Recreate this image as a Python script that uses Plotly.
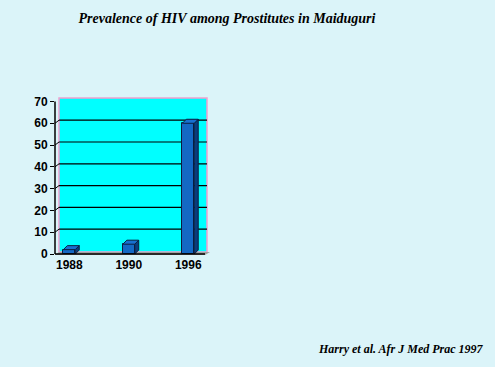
import plotly.graph_objects as go

years = ["1988", "1990", "1996"]
prevalence = [2, 4.5, 60]
y_ticks = [0, 10, 20, 30, 40, 50, 60, 70]

title_text = "Prevalence of HIV among Prostitutes in Maiduguri"
source_text = "Harry et al. Afr J Med Prac 1997"

BG = "#DBF4F9"
FRONT = "#1468C4"
SIDE = "#0B3C7C"
TOP = "#1870D0"
EDGE = "#0A1E40"

W, H = 495, 367
L, R, T, B = 55, 210, 98, 256  # plot area pixels
xr = [-0.2403, 2.365]
yr = [-0.92, 71.6]

xs = list(range(len(years)))
bw = 0.2
dx = 0.067
dy = 1.84

fig = go.Figure()

# front faces
fig.add_trace(go.Bar(x=xs, y=prevalence, width=bw, marker=dict(color=FRONT, line=dict(color=EDGE, width=1)),
                     hoverinfo="skip", showlegend=False))

# side and top faces, derived from data
for x, v in zip(xs, prevalence):
    xl, xrgt = x - bw / 2, x + bw / 2
    fig.add_trace(go.Scatter(x=[xrgt, xrgt, xrgt + dx, xrgt + dx, xrgt], y=[0, v, v + dy, dy, 0],
                             fill="toself", fillcolor=SIDE, mode="lines", line=dict(color=EDGE, width=1),
                             hoverinfo="skip", showlegend=False))
    fig.add_trace(go.Scatter(x=[xl, xl + dx, xrgt + dx, xrgt, xl], y=[v, v + dy, v + dy, v, v],
                             fill="toself", fillcolor=TOP, mode="lines", line=dict(color=EDGE, width=1),
                             hoverinfo="skip", showlegend=False))

shapes = []
# back wall
shapes.append(dict(type="rect", xref="paper", yref="paper", x0=4 / (R - L), x1=(207 - L) / (R - L),
                   y0=(B - 252) / (B - T), y1=1.0, fillcolor="#00FFFF",
                   line=dict(color="#F0A0D0", width=1.5), layer="below"))
# floor
shapes.append(dict(type="path", xref="paper", yref="paper",
                   path="M 0,%f L %f,%f L %f,%f L %f,%f Z" % (
                       (B - 255) / (B - T), 4 / (R - L), (B - 252) / (B - T),
                       1.0, (B - 252) / (B - T), (205 - L) / (R - L), (B - 255) / (B - T)),
                   fillcolor="#A0A0A0", line=dict(width=0), layer="below"))
# gridlines on back wall
for t in y_ticks[1:-1]:
    shapes.append(dict(type="line", xref="paper", yref="y", x0=4 / (R - L), x1=(207 - L) / (R - L),
                       y0=t + 1.4, y1=t + 1.4, line=dict(color="black", width=1.2), layer="below"))
    shapes.append(dict(type="line", xref="paper", yref="y", x0=0, x1=4 / (R - L),
                       y0=t, y1=t + 1.4, line=dict(color="black", width=1), layer="below"))
# y axis line
shapes.append(dict(type="line", xref="paper", yref="y", x0=0, x1=0, y0=0, y1=70,
                   line=dict(color="black", width=1.5)))
# x axis line
shapes.append(dict(type="line", xref="paper", yref="y", x0=0, x1=(205 - L) / (R - L), y0=0, y1=0,
                   line=dict(color="black", width=1.5)))

fig.update_layout(
    width=W, height=H,
    margin=dict(l=L, r=W - R, t=T, b=H - B, pad=0),
    paper_bgcolor=BG, plot_bgcolor=BG,
    shapes=shapes,
    title=dict(text=title_text, x=227 / W, y=1 - 18 / H, xanchor="center", yanchor="middle",
               font=dict(family="Liberation Serif", size=14, color="black", weight="bold", style="italic")),
    annotations=[dict(text=source_text, xref="paper", yref="paper", x=(486 - L) / (R - L),
                      y=(B - 349) / (B - T), xanchor="right", yanchor="middle", showarrow=False,
                      font=dict(family="Liberation Serif", size=12, color="black", weight="bold", style="italic"))],
    xaxis=dict(range=xr, tickvals=xs, ticktext=years, showgrid=False, zeroline=False, showline=False,
               ticks="", tickfont=dict(family="Liberation Sans", size=12, color="black", weight="bold"),
               fixedrange=True),
    yaxis=dict(range=yr, tickvals=y_ticks, showgrid=False, zeroline=False, showline=False,
               ticks="outside", ticklen=4, tickcolor="black", tickwidth=1.2,
               tickfont=dict(family="Liberation Sans", size=12, color="black", weight="bold"),
               fixedrange=True),
    bargap=0,
)

fig.write_html("out.html", config={"displayModeBar": False},
               post_script="document.body.style.margin='0';document.body.style.background='%s';" % BG)
